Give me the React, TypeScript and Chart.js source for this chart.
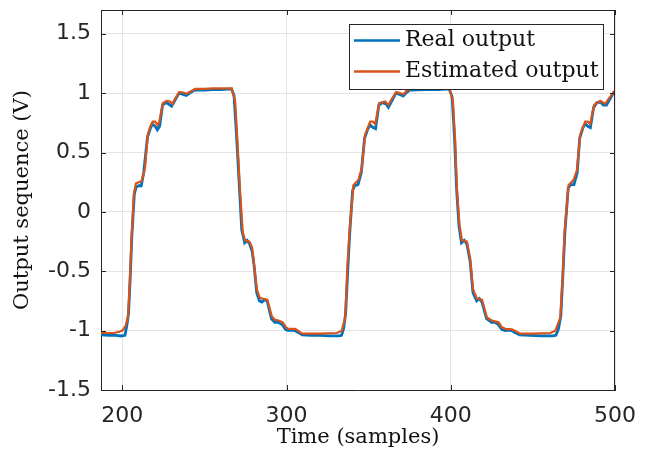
import React, { useEffect, useRef } from "react";
import { Chart, registerables } from "chart.js";

Chart.register(...registerables);

const xTickValues = [200, 300, 400, 500];
const yTickValues = [-1.5, -1, -0.5, 0, 0.5, 1, 1.5];

const seriesNames = ["Real output", "Estimated output"];

const estimatedX = [
  187, 195, 198, 200, 202, 203.5, 204.5, 205.7, 207, 208.3, 210, 211.8, 213.8, 215.5, 217, 218.5, 220, 221.5,
  222.5, 224.6, 227, 229, 230.5, 232, 234.7, 237, 239.2, 241, 244.3, 250, 255, 260, 266.6, 268.7, 270.1, 271.7,
  273.3, 274.7, 277.4, 279, 279.8, 281.9, 283.5, 284.9, 288.3, 291, 293, 295, 297.7, 299.5, 301.1, 305.2, 307,
  309.3, 320, 330.6, 333.6, 335.7, 337.1, 338.3, 340.7, 343.8, 345.8, 347.8, 350.9, 352.5, 354, 356.4, 360, 362,
  364, 366.8, 369, 371.2, 373, 375.3, 385, 392, 399.2, 401.3, 402.7, 403.7, 405.3, 406.8, 409.8, 411.8, 413.5,
  415.9, 419, 422, 425, 429.1, 431, 433.2, 437.2, 439, 442.3, 450, 460.6, 463.7, 466.7, 468.3, 469.3, 471.7,
  474.8, 476.8, 478.8, 481.8, 483.5, 484.9, 487.3, 491, 494, 496, 499.2, 500,
];
const estimatedY = [
  -1.02, -1.02, -1.01, -1.0, -0.96, -0.88, -0.6, -0.2, 0.15, 0.24, 0.25, 0.26, 0.37, 0.65, 0.72, 0.76, 0.76, 0.73,
  0.76, 0.915, 0.935, 0.93, 0.91, 0.95, 1.01, 1.005, 0.995, 1.01, 1.035, 1.035, 1.04, 1.04, 1.04, 0.93, 0.59, 0.17,
  -0.17, -0.24, -0.25, -0.3, -0.39, -0.65, -0.72, -0.73, -0.74, -0.88, -0.91, -0.915, -0.93, -0.97, -0.985, -0.985, -1.0,
  -1.025, -1.025, -1.02, -1.0, -0.89, -0.45, -0.17, 0.225, 0.27, 0.37, 0.65, 0.76, 0.76, 0.74, 0.915, 0.93, 0.9,
  0.95, 1.01, 1.0, 0.99, 1.02, 1.035, 1.04, 1.04, 1.04, 0.93, 0.59, 0.2, -0.11, -0.24, -0.25, -0.39, -0.65,
  -0.73, -0.74, -0.89, -0.915, -0.93, -0.97, -0.985, -0.99, -1.0, -1.025, -1.025, -1.02, -1.0, -0.89, -0.5, -0.17, 0.225,
  0.27, 0.35, 0.65, 0.76, 0.76, 0.74, 0.9, 0.935, 0.91, 0.95, 1.01, 1.0,
];

const realX = [
  187, 192, 196, 199, 201.6, 202.8, 203.8, 204.8, 205.8, 207.3, 208.4, 210, 211.5, 213, 214.3, 215.3, 217, 218.3,
  220, 221.3, 222.7, 224.5, 226.5, 228, 230, 232, 234.5, 237, 239, 241, 244, 250, 255, 260, 266.5, 268, 269.5,
  271.3, 272.7, 274.5, 276, 277.5, 279, 280.2, 281.8, 283.5, 285, 286.5, 288.2, 290.8, 292.8, 294.8, 297.5, 299.3,
  301, 303, 305, 307, 309.5, 315, 320, 326, 331.8, 333.5, 334.8, 336, 337.3, 338.5, 340.2, 341.5, 343.5, 345.5,
  347.5, 349.5, 351, 352.7, 354.2, 356.2, 358.5, 360.5, 362, 364, 366.5, 368.8, 371, 373, 375, 385, 392, 399,
  400.8, 402.3, 403.5, 405, 406.5, 408.2, 409.8, 411.8, 413.5, 415.8, 417.3, 419, 421.8, 424.8, 427, 429, 431, 433,
  435, 437, 439, 442, 448, 455, 462, 464, 465.5, 467, 468.3, 469.5, 471.5, 473, 475, 477, 478.5, 480.5, 482,
  483.5, 485, 487, 489, 491, 493, 494.8, 496.5, 499, 500,
];
const realY = [
  -1.035, -1.04, -1.04, -1.045, -1.04, -0.95, -0.85, -0.55, -0.2, 0.15, 0.21, 0.22, 0.22, 0.33, 0.5, 0.63, 0.7, 0.74,
  0.72, 0.69, 0.72, 0.9, 0.92, 0.91, 0.89, 0.94, 1.0, 0.99, 0.98, 1.0, 1.025, 1.025, 1.03, 1.03, 1.035, 0.98, 0.65,
  0.2, -0.15, -0.26, -0.24, -0.27, -0.33, -0.45, -0.68, -0.75, -0.76, -0.74, -0.75, -0.9, -0.93, -0.93, -0.95, -0.99,
  -1.0, -0.995, -1.0, -1.015, -1.035, -1.04, -1.04, -1.045, -1.045, -1.04, -0.98, -0.85, -0.48, -0.17, 0.18, 0.22, 0.23, 0.33,
  0.62, 0.7, 0.73, 0.71, 0.7, 0.9, 0.92, 0.91, 0.88, 0.93, 1.0, 0.99, 0.975, 1.005, 1.025, 1.03, 1.03, 1.035,
  0.97, 0.62, 0.2, -0.12, -0.26, -0.24, -0.27, -0.42, -0.68, -0.75, -0.73, -0.76, -0.9, -0.93, -0.93, -0.95, -0.99, -1.0,
  -0.995, -1.0, -1.015, -1.035, -1.04, -1.045, -1.045, -1.04, -0.99, -0.88, -0.52, -0.17, 0.2, 0.23, 0.23, 0.33, 0.62, 0.71, 0.74,
  0.72, 0.71, 0.88, 0.92, 0.925, 0.9, 0.9, 0.94, 1.0, 1.0,
];

const BLUE = "#0072BD";
const ORANGE = "#D95319";
const AXIS = "#262626";

const boxAndTicks = {
  id: "boxAndTicks",
  afterDatasetsDraw(chart: any) {
    const { ctx, chartArea: a, scales } = chart;
    ctx.save();
    ctx.strokeStyle = AXIS;
    ctx.lineWidth = 1;
    ctx.beginPath();
    ctx.moveTo(a.left, a.top + 0.5);
    ctx.lineTo(a.right, a.top + 0.5);
    ctx.moveTo(a.right - 0.5, a.top);
    ctx.lineTo(a.right - 0.5, a.bottom);
    const tl = 5;
    for (const v of xTickValues) {
      const px = Math.round(scales.x.getPixelForValue(v)) + 0.5;
      ctx.moveTo(px, a.bottom);
      ctx.lineTo(px, a.bottom - tl);
      ctx.moveTo(px, a.top);
      ctx.lineTo(px, a.top + tl);
    }
    for (const v of yTickValues) {
      const py = Math.round(scales.y.getPixelForValue(v)) + 0.5;
      ctx.moveTo(a.left, py);
      ctx.lineTo(a.left + tl, py);
      ctx.moveTo(a.right, py);
      ctx.lineTo(a.right - tl, py);
    }
    ctx.stroke();
    ctx.restore();
  },
};

const legendBox = {
  id: "legendBox",
  afterDraw(chart: any) {
    const { ctx, chartArea: a } = chart;
    const w = 254;
    const h = 65;
    const x0 = a.right - 12 - w;
    const y0 = a.top + 14;
    ctx.save();
    ctx.fillStyle = "#ffffff";
    ctx.fillRect(x0, y0, w, h);
    ctx.strokeStyle = AXIS;
    ctx.lineWidth = 1;
    ctx.strokeRect(Math.round(x0) + 0.5, Math.round(y0) + 0.5, w, h);
    const colors = [BLUE, ORANGE];
    const rows = [y0 + 16.5, y0 + 47.5];
    ctx.font = '22px "DejaVu Serif"';
    ctx.textBaseline = "middle";
    ctx.textAlign = "left";
    seriesNames.forEach((name, i) => {
      ctx.strokeStyle = colors[i];
      ctx.lineWidth = 2.5;
      ctx.beginPath();
      ctx.moveTo(x0 + 5, rows[i]);
      ctx.lineTo(x0 + 51, rows[i]);
      ctx.stroke();
      ctx.fillStyle = "#111111";
      ctx.fillText(name, x0 + 56, rows[i]);
    });
    ctx.restore();
  },
};

export default function App() {
  const ref = useRef<HTMLCanvasElement>(null);
  useEffect(() => {
    document.body.style.margin = "0";
    const canvas = ref.current;
    if (!canvas) return;
    const tickFont = { family: '"DejaVu Sans"', size: 22 };
    const titleFont = { family: '"DejaVu Serif"', size: 21 };
    const chart = new Chart(canvas, {
      type: "line",
      data: {
        datasets: [
          {
            label: seriesNames[1],
            data: estimatedX.map((x, i) => ({ x, y: estimatedY[i] })),
            borderColor: ORANGE,
            borderWidth: 2.2,
            pointRadius: 0,
            tension: 0,
          },
          {
            label: seriesNames[0],
            data: realX.map((x, i) => ({ x, y: realY[i] })),
            borderColor: BLUE,
            borderWidth: 2.8,
            pointRadius: 0,
            tension: 0,
          },
        ],
      },
      options: {
        animation: false,
        responsive: false,
        events: [],
        layout: { padding: { top: 10, right: 30, left: 0, bottom: 0 } },
        plugins: { legend: { display: false }, tooltip: { enabled: false } },
        scales: {
          x: {
            type: "linear",
            min: 187,
            max: 500,
            afterBuildTicks: (s: any) => {
              s.ticks = xTickValues.map((v) => ({ value: v }));
            },
            afterFit: (s: any) => {
              s.height = 67;
              s.paddingRight = 0;
              s.paddingLeft = 0;
            },
            grid: { color: "#e4e4e4", drawTicks: false },
            border: { display: true, color: AXIS, width: 1 },
            ticks: {
              font: tickFont,
              color: AXIS,
              padding: 13,
              maxRotation: 0,
              autoSkip: false,
              callback: (v: any) => String(v),
            },
            title: {
              display: true,
              text: "Time (samples)",
              font: titleFont,
              color: "#111111",
              padding: { top: 0, bottom: 7 },
            },
          },
          y: {
            type: "linear",
            min: -1.5,
            max: 1.7,
            afterBuildTicks: (s: any) => {
              s.ticks = yTickValues.map((v) => ({ value: v }));
            },
            afterFit: (s: any) => {
              s.width = 101;
              s.paddingTop = 0;
              s.paddingBottom = 0;
            },
            grid: { color: "#e4e4e4", drawTicks: false },
            border: { display: true, color: AXIS, width: 1 },
            ticks: {
              font: tickFont,
              color: AXIS,
              padding: 10,
              autoSkip: false,
              callback: (v: any) => String(v),
            },
            title: {
              display: true,
              text: "Output sequence (V)",
              font: titleFont,
              color: "#111111",
              padding: { top: 10, bottom: 0 },
            },
          },
        },
      },
      plugins: [boxAndTicks, legendBox],
    });
    return () => chart.destroy();
  }, []);
  return (
    <div style={{ position: "absolute", left: 0, top: 0, width: 645, height: 457 }}>
      <canvas ref={ref} width={645} height={457} style={{ display: "block", width: 645, height: 457 }} />
    </div>
  );
}
